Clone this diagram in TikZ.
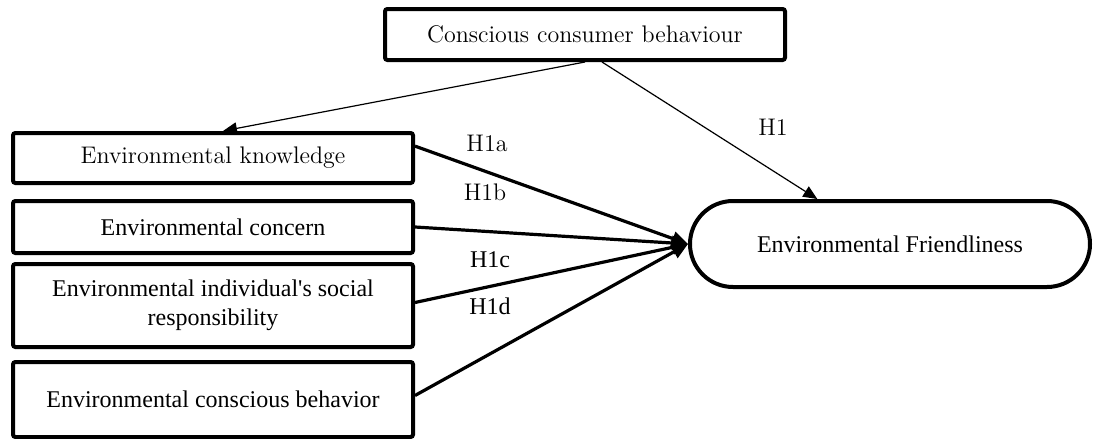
\documentclass[tikz,border=0pt]{standalone}
\usepackage{fontspec}
\newfontfamily\timesfont{Liberation Serif}
\usetikzlibrary{arrows.meta,calc}

\tikzset{
  box/.style={draw,line width=2pt,minimum width=200pt,inner sep=0pt,rounded corners=1.2pt},
  tnr/.style={font=\timesfont\fontsize{12}{14.5}\selectfont},
  thickarrow/.style={line width=1.6pt,-{Triangle[length=8pt,width=7pt]}},
  thinarrow/.style={line width=0.6pt,-{Triangle[length=7pt,width=6pt]}},
  hlabel/.style={inner sep=0pt}
}

\begin{document}
\begin{tikzpicture}[x=0.5pt,y=-0.5pt,font=\fontsize{12}{14.5}\selectfont]
\useasboundingbox (0,0) rectangle (1093,439);

% boxes
\node[box,minimum height=25.5pt] (cons) at (585,34.5) {Conscious consumer behaviour};
\node[box,minimum height=25pt] (know) at (213,158) {Environmental knowledge};
\node[box,tnr,minimum height=26pt] (concern) at (213,227) {Environmental concern};
\node[box,tnr,minimum height=41.5pt,align=center] (indiv) at (213,305.5)
     {Environmental individual's social\\responsibility};
\node[box,tnr,minimum height=37.5pt] (behav) at (213,399.5) {Environmental conscious behavior};
\node[box,tnr,minimum height=43pt,rounded corners=21.5pt] (friend) at (890,244)
     {Environmental Friendliness};

% arrows
\draw[thinarrow] (cons.south) -- ($(know.north)+(10,0)$);
\draw[thinarrow] ($(cons.south)+(17,0)$) -- ($(friend.north west)!0.32!(friend.north east)$);
\draw[thickarrow] ($(know.north east)!0.28!(know.south east)$) -- (friend.west);
\draw[thickarrow] (concern.east) -- (friend.west);
\draw[thickarrow] ($(indiv.east)+(0,-3)$) -- (friend.west);
\draw[thickarrow] ($(behav.east)+(0,-4)$) -- (friend.west);

% labels
\node[hlabel] (h1) at (773,127) {H1};
\node[hlabel] (h1a) at (487,143) {H1a};
\node[hlabel] (h1b) at (485,192) {H1b};
\node[hlabel,tnr] (h1c) at (490,260) {H1c};
\node[hlabel,tnr] (h1d) at (490,306) {H1d};

\end{tikzpicture}
\end{document}
